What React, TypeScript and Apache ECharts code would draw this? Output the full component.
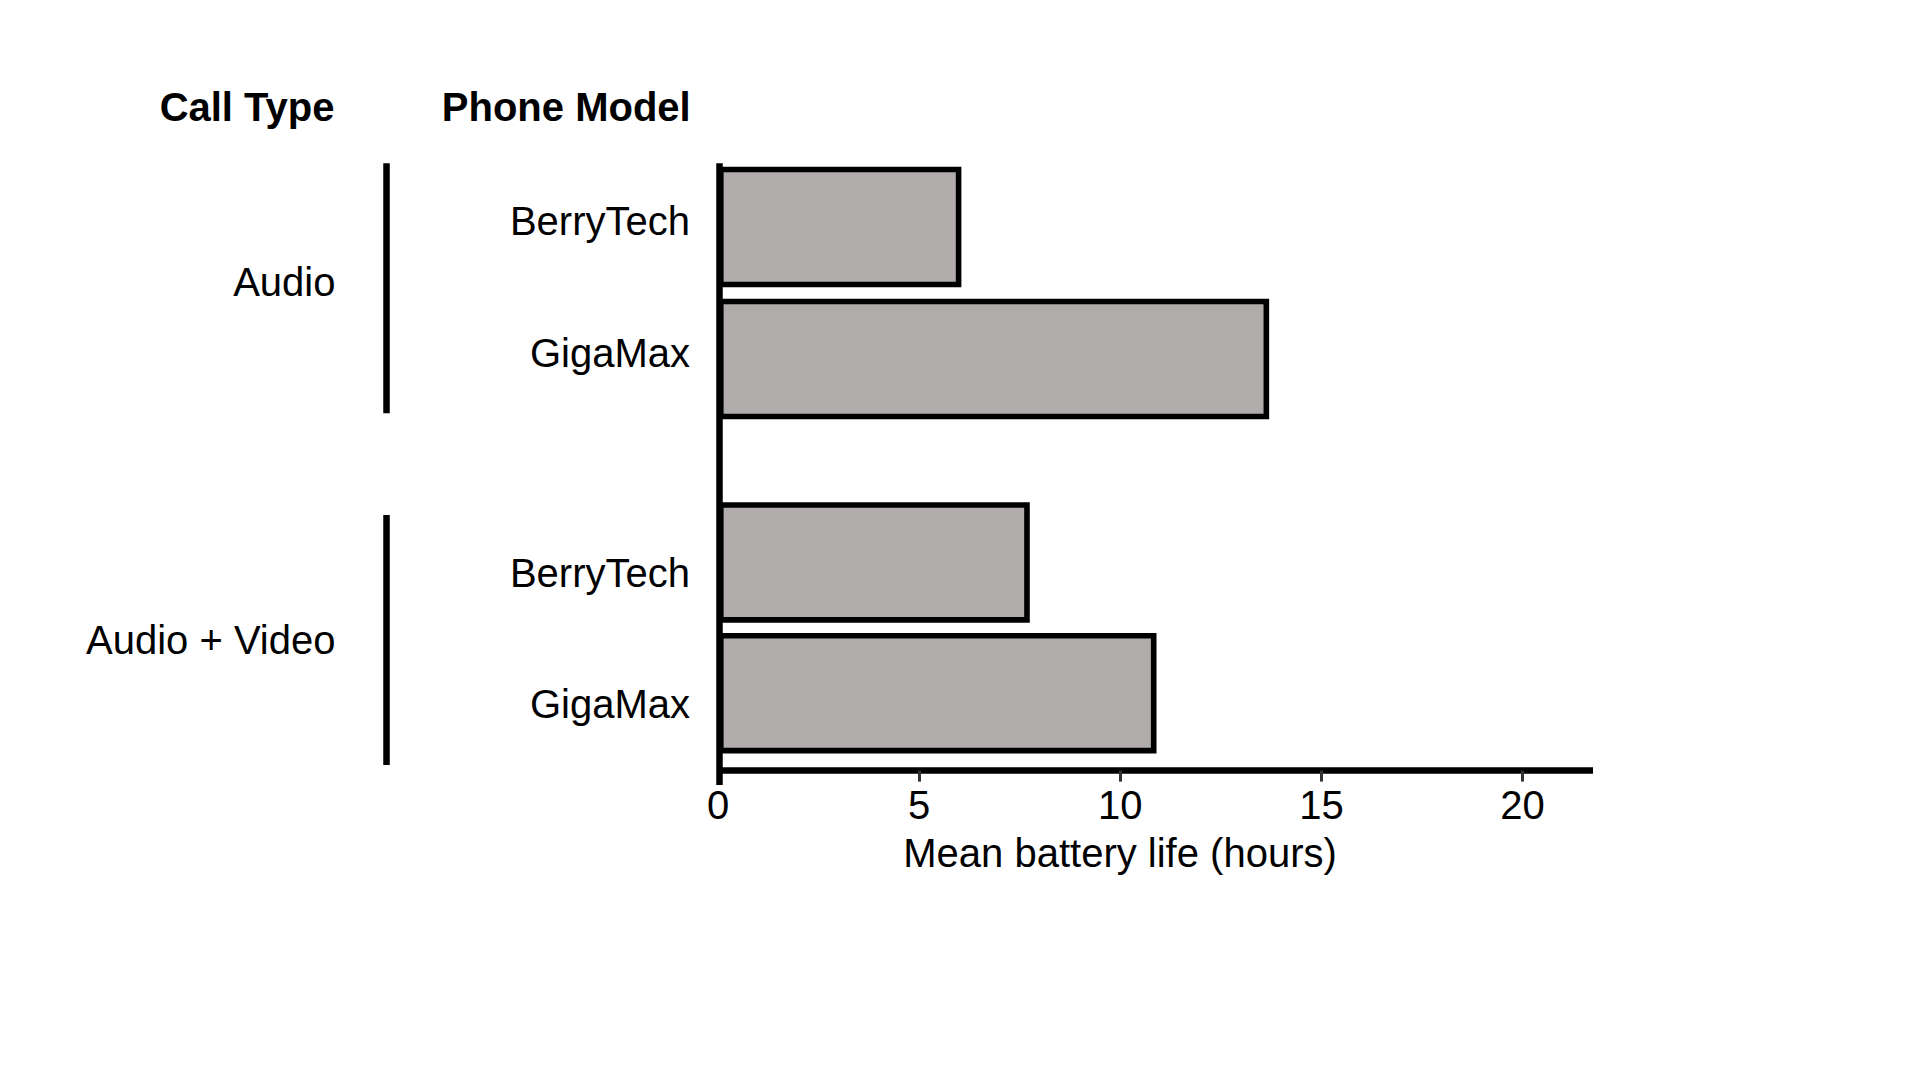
import React, { useEffect, useRef } from "react";
import * as echarts from "echarts";

// ---- Data ----
const callTypes: string[] = ["Audio", "Audio + Video"];
const phoneModels: string[] = ["BerryTech", "GigaMax"];
const audioValues: number[] = [6.05, 13.7];
const audioVideoValues: number[] = [7.75, 10.9];
const xTicks: number[] = [0, 5, 10, 15, 20];
const xMax = 21.75;
const xAxisTitle = "Mean battery life (hours)";
const header1 = "Call Type";
const header2 = "Phone Model";

const FONT = "'Liberation Sans', Arial, Helvetica, sans-serif";
const FS = 40;

export default function App() {
  const ref = useRef<HTMLDivElement>(null);

  useEffect(() => {
    if (!ref.current) return;
    const chart = echarts.init(ref.current, undefined, { renderer: "svg" });

    const groupLayout = [
      { labelY: 282, lineTop: 163.3, lineBottom: 413.3 },
      { labelY: 639.5, lineTop: 515, lineBottom: 765 },
    ];

    const gridLeft = 718;
    const gridWidth = 875;

    const catAxis = (gridIndex: number, vAlign: string, lh: number) => ({
      gridIndex,
      type: "category",
      inverse: true,
      data: phoneModels,
      axisLine: { show: false },
      axisTick: { show: false },
      splitLine: { show: false },
      axisLabel: {
        fontSize: FS,
        color: "#000",
        fontFamily: FONT,
        margin: 28,
        verticalAlign: vAlign,
        lineHeight: lh,
      },
    });

    const barSeries = (idx: number, data: number[]) => ({
      type: "bar",
      xAxisIndex: idx,
      yAxisIndex: idx,
      data,
      barWidth: 120.5,
      itemStyle: { color: "#afacab", borderColor: "#000", borderWidth: 5.6 },
      emphasis: { disabled: true },
    });

    const textEl = (text: string, x: number, y: number, bold: boolean) => ({
      type: "text",
      x,
      y,
      z: 20,
      style: {
        text,
        x: 0,
        y: 0,
        fill: "#000",
        font: `${bold ? "bold " : ""}${FS}px ${FONT}`,
        fontSize: FS,
        fontWeight: bold ? "bold" : "normal",
        fontFamily: FONT,
        align: "right",
        verticalAlign: "middle",
        textAlign: "right",
        textVerticalAlign: "middle",
      },
    });

    const lineEl = (x1: number, y1: number, x2: number, y2: number) => ({
      type: "line",
      z: 15,
      shape: { x1, y1, x2, y2 },
      style: { stroke: "#000", lineWidth: 6.5 },
    });

    const graphic: any[] = [
      textEl(header1, 334.5, 107, true),
      textEl(header2, 690.7, 107, true),
      lineEl(719.5, 163.3, 719.5, 785),
    ];
    callTypes.forEach((ct, i) => {
      const g = groupLayout[i];
      graphic.push(textEl(ct, 335.5, g.labelY, false));
      graphic.push(lineEl(386.5, g.lineTop, 386.5, g.lineBottom));
    });

    const option: any = {
      animation: false,
      backgroundColor: "#ffffff",
      textStyle: { fontFamily: FONT },
      grid: [
        { left: gridLeft, width: gridWidth, top: 161, height: 264, containLabel: false, outerBoundsMode: "none" },
        { left: gridLeft, width: gridWidth, top: 497, height: 261.6, containLabel: false, outerBoundsMode: "none" },
      ],
      xAxis: [
        { gridIndex: 0, type: "value", min: 0, max: xMax, interval: 5, show: false, splitLine: { show: false } },
        {
          gridIndex: 1,
          type: "value",
          min: 0,
          max: xMax,
          interval: 5,
          position: "bottom",
          offset: 12,
          axisLine: { show: true, lineStyle: { color: "#000", width: 6.5, cap: "butt" } },
          axisTick: { show: true, length: 11, lineStyle: { color: "#333", width: 3 }, customValues: xTicks },
          axisLabel: { customValues: xTicks, margin: 14, fontSize: FS, color: "#000", fontFamily: FONT },
          splitLine: { show: false },
          name: xAxisTitle,
          nameLocation: "middle",
          nameGap: 62,
          nameMoveOverlap: false,
          nameTextStyle: { fontSize: FS, color: "#000", fontFamily: FONT, padding: [0, 71, 0, 0] },
        },
      ],
      yAxis: [catAxis(0, "bottom", 13), catAxis(1, "top", 21)],
      series: [barSeries(0, audioValues), barSeries(1, audioVideoValues)],
      graphic,
    };

    chart.setOption(option);
    return () => chart.dispose();
  }, []);

  return (
    <div
      ref={ref}
      style={{ position: "fixed", left: 0, top: 0, width: 1920, height: 1080, background: "#fff" }}
    />
  );
}
